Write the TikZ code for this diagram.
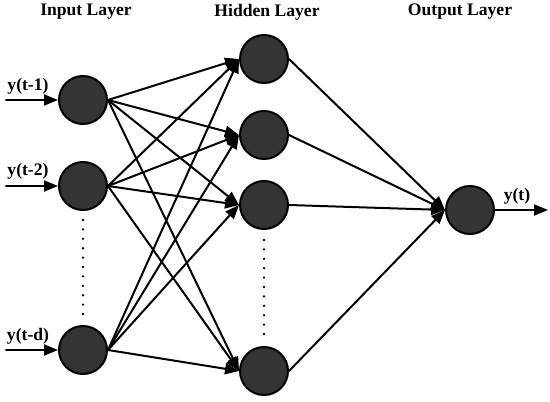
\documentclass[tikz,border=0pt]{standalone}
\usepackage{fontspec}
\setmainfont{Liberation Serif}
\usetikzlibrary{arrows.meta}
\definecolor{cneuron}{RGB}{52,52,52}

\begin{document}
\begin{tikzpicture}[x=0.5pt,y=-0.5pt,line cap=round,
  neuron/.style={circle,draw=black,line width=1pt,fill=cneuron,minimum size=24pt,inner sep=0pt},
  link/.style={line width=1pt,-{Triangle[length=7pt,width=5.5pt]}},
  lbl/.style={font=\fontsize{8.8}{10}\selectfont\bfseries}]
\useasboundingbox (0,0) rectangle (550,401);
% ---------- layer titles ----------
\node[lbl] (tin) at (86,12){Input Layer};
\node[lbl] (thid) at (267,12){Hidden Layer};
\node[lbl] (tout) at (460,12){Output Layer};
% ---------- neurons ----------
\node[neuron] (in1) at (83,100){};
\node[neuron] (in2) at (83,186){};
\node[neuron] (in3) at (83,350){};
\node[neuron] (hid1) at (264,59){};
\node[neuron] (hid2) at (264,135){};
\node[neuron] (hid3) at (264,205){};
\node[neuron] (hid4) at (264,371){};
\node[neuron] (out) at (470,210){};
% ---------- inputs ----------
\coordinate (src1) at (6,100);
\coordinate (src2) at (6,186);
\coordinate (src3) at (6,350);
\node[lbl] (y1) at (28,86){y(t-1)};
\node[lbl] (y2) at (28,171){y(t-2)};
\node[lbl] (yd) at (28,336){y(t-d)};
\foreach \i in {1,2,3}
  \draw[link] (src\i) -- (in\i.west);
% ---------- connections ----------
\foreach \i in {1,2,3}{
  \foreach \j in {1,...,4}
    \draw[link] (in\i.east) -- (hid\j.west);}
\foreach \j in {1,...,4}
  \draw[link] (hid\j.east) -- (out.west);
% ---------- output ----------
\coordinate (dst) at (548,210);
\draw[link] (out.east) -- (dst);
\node[lbl] (yt) at (517,196){y(t)};
% ---------- dots ----------
\draw[line width=1.3pt,dash pattern=on 0pt off 4.7pt] (83,220) -- (83,315);
\draw[line width=1.3pt,dash pattern=on 0pt off 4.7pt] (264,240) -- (264,336);
\end{tikzpicture}
\end{document}
